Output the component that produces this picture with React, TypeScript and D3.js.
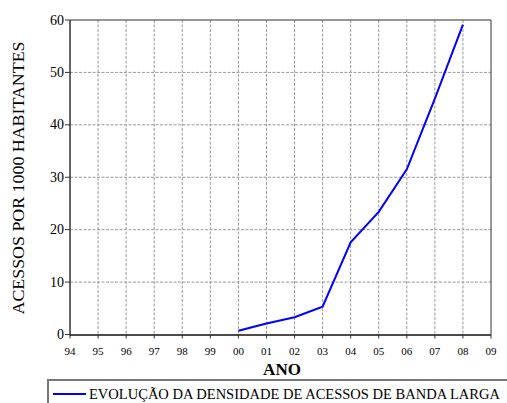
import React from "react";
import * as d3 from "d3";

const years = [2000, 2001, 2002, 2003, 2004, 2005, 2006, 2007, 2008];
const values = [0.7, 2.1, 3.3, 5.3, 17.6, 23.4, 31.5, 45.0, 59.1];
const xTicks = d3.range(1994, 2010);
const yTicks = [0, 10, 20, 30, 40, 50, 60];
const seriesName = "EVOLUÇÃO DA DENSIDADE DE ACESSOS DE BANDA LARGA";
const xTitle = "ANO";
const yTitle = "ACESSOS POR 1000 HABITANTES";

export default function App() {
  const W = 507, H = 403;
  const left = 70, right = 491, top = 20, bottom = 334.5;
  const x = d3.scaleLinear().domain([1994, 2009]).range([left, right]);
  const y = d3.scaleLinear().domain([0, 60]).range([bottom, top]);
  const line = d3.line<number>().x((_, i) => x(years[i])).y((d) => y(d));
  const font = "'Liberation Serif', 'DejaVu Serif', serif";
  const fmt = (v: number) => String(v % 100).padStart(2, "0");
  const ts = { fontFamily: font };
  return (
    <svg width={W} height={H} style={{ position: "absolute", left: 0, top: 0, fontFamily: font }}>
      <rect width={W} height={H} fill="#fff" />
      {xTicks.slice(1, -1).map((t) => (
        <line key={"gx" + t} x1={x(t)} x2={x(t)} y1={top} y2={bottom} stroke="#999" strokeDasharray="3,1.5" strokeWidth={1} />
      ))}
      {yTicks.slice(1, -1).map((t) => (
        <line key={"gy" + t} x1={left} x2={right} y1={y(t)} y2={y(t)} stroke="#999" strokeDasharray="3,1.5" strokeWidth={1} />
      ))}
      <line x1={left} x2={right} y1={top} y2={top} stroke="#333" strokeWidth={1} />
      <line x1={right} x2={right} y1={top} y2={bottom} stroke="#333" strokeWidth={1} />
      <line x1={left} x2={left} y1={top} y2={bottom + 1} stroke="#333" strokeWidth={1.5} />
      <line x1={left} x2={right} y1={bottom + 0.5} y2={bottom + 0.5} stroke="#111" strokeWidth={1.5} />
      {yTicks.map((t) => (
        <g key={"yt" + t}>
          <line x1={left - 5} x2={left} y1={y(t)} y2={y(t)} stroke="#333" />
          <text style={ts} x={left - 6} y={y(t)} dy="0.33em" textAnchor="end" fontSize={14}>{t}</text>
        </g>
      ))}
      {xTicks.map((t) => (
        <g key={"xt" + t}>
          <line x1={x(t)} x2={x(t)} y1={bottom} y2={bottom + 4} stroke="#333" />
          <text style={ts} x={x(t)} y={354.5} textAnchor="middle" fontSize={11}>{fmt(t)}</text>
        </g>
      ))}
      <path d={line(values) || ""} fill="none" stroke="#0000ff" strokeWidth={2} />
      <text style={ts} x={282} y={375} textAnchor="middle" fontSize={17} fontWeight="bold">{xTitle}</text>
      <text style={ts} transform={`translate(24,178) rotate(-90)`} textAnchor="middle" fontSize={16.5} textLength={273} lengthAdjust="spacingAndGlyphs">{yTitle}</text>
      <rect x={48} y={380} width={470} height={40} fill="none" stroke="#777" strokeWidth={2} />
      <line x1={53} x2={86} y1={394} y2={394} stroke="#0000ff" strokeWidth={2} />
      <text style={ts} x={89} y={399} fontSize={14.5} textLength={411} lengthAdjust="spacingAndGlyphs">{seriesName}</text>
    </svg>
  );
}
